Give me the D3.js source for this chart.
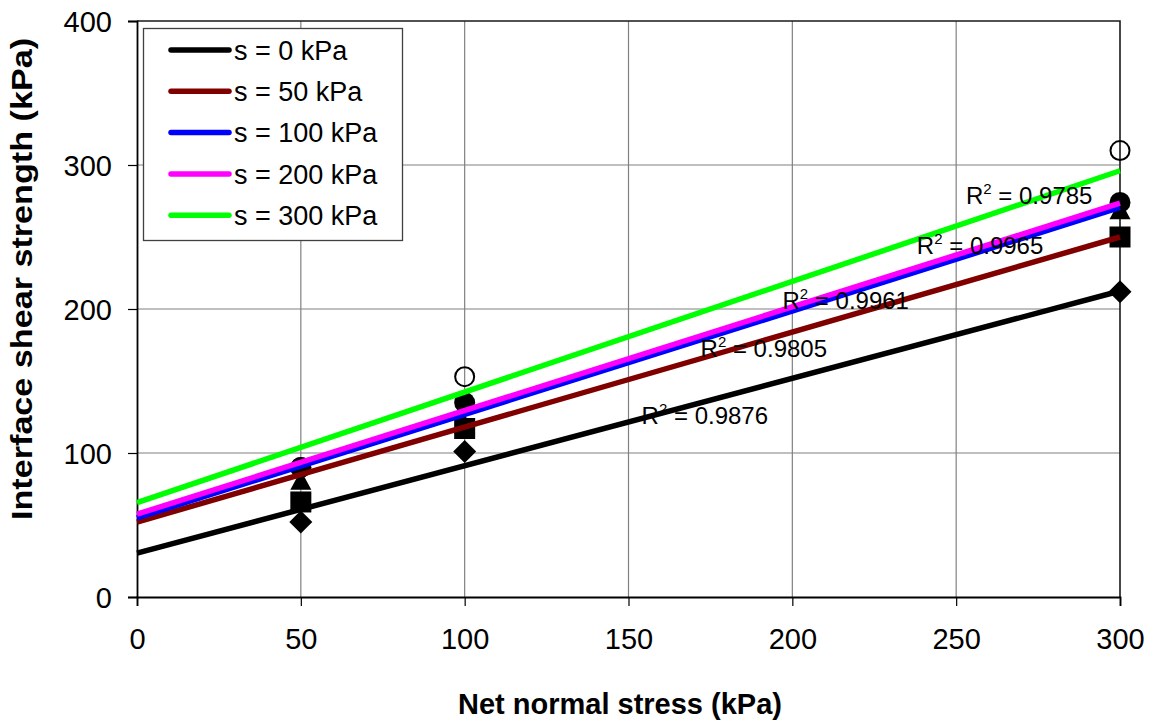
<!DOCTYPE html>
<html>
<head>
<meta charset="utf-8">
<script src="https://cdn.jsdelivr.net/npm/d3@7"></script>
<style>
  html, body { margin: 0; padding: 0; background: #fff; }
  svg { display: block; font-family: "Liberation Sans", Arial, sans-serif; }
</style>
</head>
<body>
<svg id="chart" width="1163" height="722"></svg>
<script>
// Net normal stress levels (kPa)
const stress = [50, 100, 300];

// Suction levels and their series styling keys
const seriesNames = ["s = 0 kPa", "s = 50 kPa", "s = 100 kPa", "s = 200 kPa", "s = 300 kPa"];
const seriesColors = ["#000000", "#800000", "#0000ff", "#ff00ff", "#00ff00"];
const seriesMarkers = ["diamond", "square", "triangle", "circle", "openCircle"];

// Measured interface shear strength (kPa) per suction level
const shear0 = [52, 101, 212];
const shear50 = [66, 117, 250];
const shear100 = [81, 120, 269];
const shear200 = [90, 135, 274];
const shear300 = [90, 153, 310];

// Linear trend lines: shear strength at net normal stress 0 and 300 kPa
const trendAt0 = [30.5, 52, 55, 57.5, 65.5];
const trendAt300 = [212.5, 250, 270.5, 273.5, 296];

// Coefficient of determination for each trend line
const r2Values = ["0.9876", "0.9805", "0.9961", "0.9965", "0.9785"];
// Where each R² note sits (stress, shear) on the chart
const r2AtStress = [154, 172, 197, 238, 253];
const r2AtShear = [120, 167, 200, 238, 273];

const xTicks = [0, 50, 100, 150, 200, 250, 300];
const yTicks = [0, 100, 200, 300, 400];

const shearSeries = [shear0, shear50, shear100, shear200, shear300];

const svg = d3.select("#chart");
const x = d3.scaleLinear().domain([0, 300]).range([137, 1120]);
const y = d3.scaleLinear().domain([0, 400]).range([597, 21]);

// Gridlines
const grid = svg.append("g").attr("stroke", "#808080").attr("stroke-width", 1.2);
grid.selectAll("line.v").data(xTicks.slice(1, -1)).join("line")
  .attr("x1", d => x(d)).attr("x2", d => x(d))
  .attr("y1", y(0)).attr("y2", y(400));
grid.selectAll("line.h").data(yTicks.slice(1, -1)).join("line")
  .attr("x1", x(0)).attr("x2", x(300))
  .attr("y1", d => y(d)).attr("y2", d => y(d));

// Plot area frame (top and right)
svg.append("path")
  .attr("d", `M${x(0)},${y(400)}H${x(300)}V${y(0)}`)
  .attr("fill", "none").attr("stroke", "#1a1a1a").attr("stroke-width", 1.6);

// Axes
const xAxis = d3.axisBottom(x).tickValues(xTicks).tickSize(9).tickPadding(22);
const yAxis = d3.axisLeft(y).tickValues(yTicks).tickSize(9).tickPadding(16);
const gx = svg.append("g").attr("transform", `translate(0,${y(0)})`).call(xAxis);
const gy = svg.append("g").attr("transform", `translate(${x(0)},0)`).call(yAxis);
[gx, gy].forEach(g => {
  g.select(".domain").attr("stroke", "#000").attr("stroke-width", 1.8);
  g.selectAll(".tick line").attr("stroke", "#000").attr("stroke-width", 1.2);
  g.selectAll(".tick text")
    .attr("font-family", "Liberation Sans, Arial, sans-serif")
    .attr("font-size", 29).attr("fill", "#000");
});
gx.selectAll(".tick line").attr("y1", 0);
gy.selectAll(".tick text").attr("dy", "0.36em");

// Markers
const markerGroup = svg.append("g");
function markerPath(kind) {
  switch (kind) {
    case "diamond": return "M0,-11.5L11.5,0L0,11.5L-11.5,0Z";
    case "square": return "M-10.5,-10.5H10.5V10.5H-10.5Z";
    case "triangle": return "M0,-10L10.5,9.5H-10.5Z";
    default: return null;
  }
}
shearSeries.forEach((vals, i) => {
  const kind = seriesMarkers[i];
  const pts = stress.map((s, j) => ({ s, v: vals[j] }));
  const g = markerGroup.append("g");
  if (kind === "circle" || kind === "openCircle") {
    g.selectAll("circle").data(pts).join("circle")
      .attr("cx", d => x(d.s)).attr("cy", d => y(d.v))
      .attr("r", kind === "circle" ? 10.5 : 9.5)
      .attr("fill", kind === "circle" ? "#000" : "none")
      .attr("stroke", "#000").attr("stroke-width", kind === "circle" ? 0 : 2);
  } else {
    g.selectAll("path").data(pts).join("path")
      .attr("transform", d => `translate(${x(d.s)},${y(d.v)})`)
      .attr("d", markerPath(kind)).attr("fill", "#000");
  }
});

// Trend lines
svg.append("g").selectAll("line").data(seriesNames.map((n, i) => i)).join("line")
  .attr("x1", x(0)).attr("x2", x(300))
  .attr("y1", i => y(trendAt0[i])).attr("y2", i => y(trendAt300[i]))
  .attr("stroke", i => seriesColors[i]).attr("stroke-width", 5.5);

// R² notes
const notes = svg.append("g").attr("font-size", 24).attr("fill", "#000");
r2Values.forEach((r, i) => {
  const t = notes.append("text").attr("x", x(r2AtStress[i])).attr("y", y(r2AtShear[i]));
  t.append("tspan").text("R");
  t.append("tspan").attr("font-size", 15).attr("dy", -10).text("2");
  t.append("tspan").attr("dy", 10).text(" = " + r);
});

// Legend
const legend = svg.append("g");
legend.append("rect").attr("x", 143.5).attr("y", 28.5).attr("width", 259).attr("height", 212)
  .attr("fill", "#fff").attr("stroke", "#404040").attr("stroke-width", 1.3);
seriesNames.forEach((name, i) => {
  const cy = 50 + i * 41.3;
  legend.append("line").attr("x1", 171).attr("x2", 229).attr("y1", cy).attr("y2", cy)
    .attr("stroke", seriesColors[i]).attr("stroke-width", 5.5).attr("stroke-linecap", "round");
  legend.append("text").attr("x", 234).attr("y", cy).attr("dy", "0.36em")
    .attr("font-size", 27).attr("fill", "#000").text(name);
});

// Axis titles
svg.append("text").attr("x", 620).attr("y", 714).attr("text-anchor", "middle")
  .attr("font-size", 29).attr("font-weight", "bold").attr("fill", "#000")
  .text("Net normal stress (kPa)");
svg.append("text").attr("transform", "translate(32,279) rotate(-90)").attr("text-anchor", "middle")
  .attr("font-size", 29).attr("font-weight", "bold").attr("fill", "#000")
  .attr("textLength", 482).attr("lengthAdjust", "spacingAndGlyphs")
  .text("Interface shear strength (kPa)");
</script>
</body>
</html>
